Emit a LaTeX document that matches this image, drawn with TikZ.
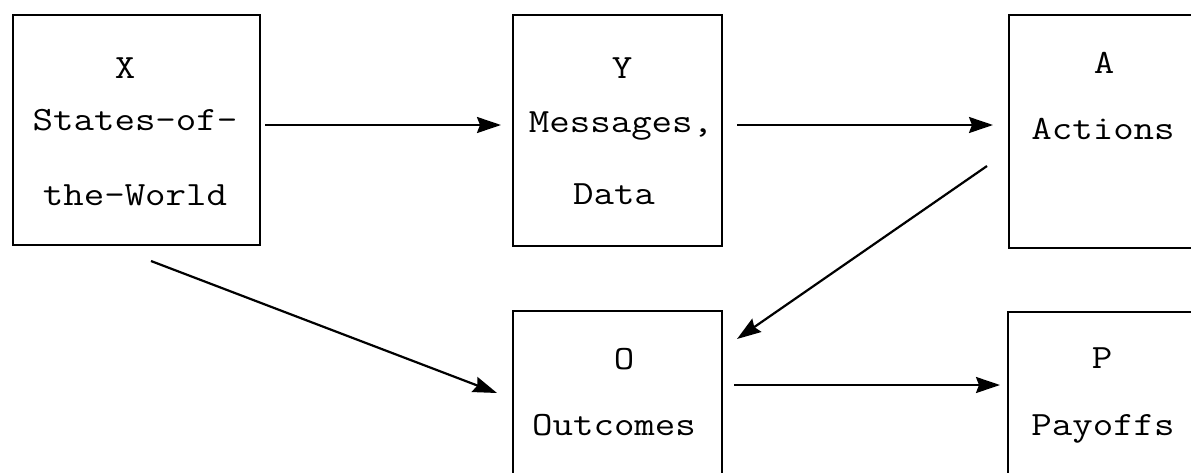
\documentclass[tikz,border=0pt]{standalone}
\usepackage{fontspec}
\setmonofont[FakeStretch=1.17]{Latin Modern Mono}
\usetikzlibrary{arrows.meta}
\begin{document}
\begin{tikzpicture}[x=1pt,y=-1pt,
  box/.style={draw, line width=2.3pt, inner sep=0pt, anchor=north west},
  txt/.style={font=\ttfamily\fontsize{34}{40}\selectfont, anchor=base, inner sep=0pt},
  arr/.style={line width=2.2pt, -{Stealth[length=24pt,width=16pt,inset=3pt]}}]
\useasboundingbox (0,0) rectangle (1191,472);
\clip (0,0) rectangle (1191,472);
% boxes
\node[box, minimum width=247pt, minimum height=230pt] (X) at (12,14) {};
\node[box, minimum width=209pt, minimum height=231pt] (Y) at (512,14) {};
\node[box, minimum width=260pt, minimum height=233pt] (A) at (1008,14) {};
\node[box, minimum width=209pt, minimum height=200pt] (O) at (512,310) {};
\node[box, minimum width=260pt, minimum height=200pt] (P) at (1007,311) {};
% texts
\node[txt] (xl) at (125,78) {X};
\node[txt] (x1) at (135,130) {States-of-};
\node[txt] (x2) at (135,205) {the-World};
\node[txt] (yl) at (622,78) {Y};
\node[txt] (y1) at (621,132) {Messages,};
\node[txt] (y2) at (614,204) {Data};
\node[txt] (al) at (1104,73) {A};
\node[txt] (a1) at (1103,139) {Actions};
\node[txt] (ol) at (624,369) {O};
\node[txt] (o1) at (614,435) {Outcomes};
\node[txt] (pl) at (1102,368) {P};
\node[txt] (p1) at (1103,435) {Payoffs};
% connector endpoints
\coordinate (xs) at (151,261);
\coordinate (xe) at (497,393);
\coordinate (as) at (987,166);
\coordinate (ae) at (737,339);
% connectors
\draw[arr, shorten <=4pt, shorten >=11pt] (X.east |- 0,125) -- (Y.west |- 0,125);
\draw[arr, shorten <=14pt, shorten >=15pt] (Y.east |- 0,125) -- (A.west |- 0,125);
\draw[arr] (as) -- (ae);
\draw[arr] (xs) -- (xe);
\draw[arr, shorten <=11pt, shorten >=7pt] (O.east |- 0,385) -- (P.west |- 0,385);
\end{tikzpicture}
\end{document}
